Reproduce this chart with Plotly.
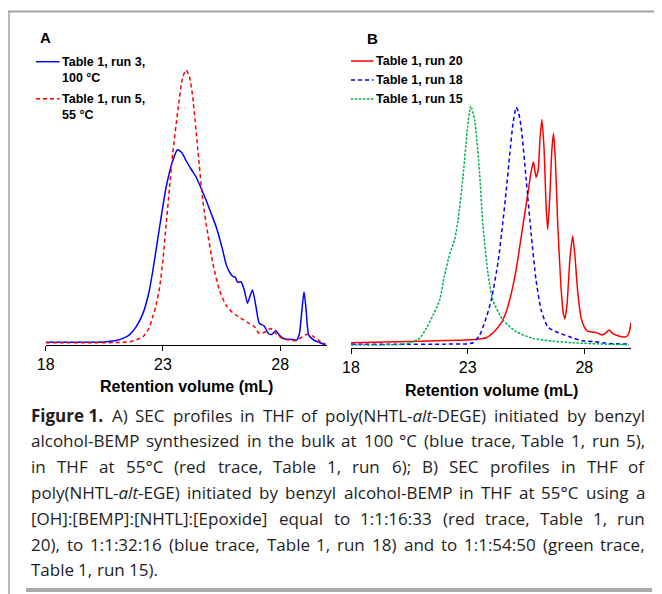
import re
import plotly.graph_objects as go

# The page shows the figure inside the default 8px body margin, so the figure is
# sized to the window minus that margin and every position below is given in
# window pixels and converted.
WIN_W, WIN_H = 662, 594
OFF = 8
W, H = WIN_W - OFF, WIN_H - OFF

# ---------------- data ----------------
# Panel A
vol_A_run3 = [18.0, 19.0, 20.0, 20.6, 21.0, 21.3, 21.58, 21.85, 22.15, 22.4, 22.57, 22.86, 23.14, 23.42,
              23.62, 23.8, 23.99, 24.2, 24.42, 24.63, 24.84, 25.05, 25.27, 25.55, 25.69, 25.83, 25.97,
              26.09, 26.19, 26.33, 26.47, 26.61, 26.71, 26.82, 26.97, 27.11, 27.32, 27.5, 27.63, 27.82,
              27.96, 28.17, 28.5, 28.7, 28.82, 28.93, 29.02, 29.11, 29.22, 29.44, 29.7, 29.94]
int_A_run3 = [1.0, 1.0, 1.0, 1.2, 1.6, 2.4, 3.8, 6.5, 11.5, 19.0, 27.0, 43.0, 57.5, 67.0,
              71.0, 70.0, 67.0, 64.0, 61.0, 57.0, 52.7, 48.0, 43.0, 34.5, 29.5, 26.7, 25.0,
              24.6, 22.8, 23.0, 20.0, 15.2, 17.6, 20.0, 14.0, 7.9, 6.9, 4.2, 3.8, 5.2,
              3.6, 2.3, 2.0, 1.8, 4.0, 12.7, 19.4, 12.7, 3.6, 1.8, 0.8, 0.0]

vol_A_run5 = [18.0, 19.0, 20.0, 21.0, 21.58, 21.9, 22.15, 22.4, 22.57, 22.72, 22.86, 23.0, 23.14, 23.28,
              23.42, 23.64, 23.85, 23.99, 24.13, 24.27, 24.49, 24.7, 24.91, 25.13, 25.41, 25.69, 25.97,
              26.33, 26.68, 26.9, 27.11, 27.39, 27.6, 27.82, 28.1, 28.67, 28.95, 29.16, 29.37, 29.66, 29.94]
int_A_run5 = [0.8, 0.8, 0.8, 0.9, 1.2, 2.0, 3.0, 6.0, 10.3, 15.0, 21.0, 31.0, 44.0, 57.0,
              69.7, 85.5, 97.6, 100.0, 97.6, 90.3, 71.0, 52.7, 40.6, 29.7, 20.0, 14.5, 11.8,
              9.7, 7.9, 6.7, 4.2, 4.8, 6.0, 4.2, 2.4, 1.6, 3.0, 3.9, 3.3, 1.6, 0.3]

# Panel B
vol_B_run20 = [18.0, 20.0, 22.0, 23.3, 23.8, 24.1, 24.44, 24.65, 24.82, 25.08, 25.36, 25.58, 25.72, 25.82,
               25.93, 26.02, 26.1, 26.18, 26.27, 26.36, 26.43, 26.52, 26.61, 26.68, 26.76, 26.86, 27.0,
               27.1, 27.17, 27.26, 27.38, 27.5, 27.6, 27.72, 27.86, 28.0, 28.14, 28.43, 28.6, 28.78,
               28.93, 29.07, 29.2, 29.35, 29.6, 29.8, 29.92, 30.0]
int_B_run20 = [1.8, 2.2, 2.6, 3.0, 3.6, 5.5, 9.0, 13.0, 18.0, 28.5, 44.0, 56.0, 64.0, 67.6,
               62.0, 64.5, 76.0, 83.0, 73.0, 52.0, 43.0, 55.0, 72.0, 78.0, 68.0, 45.0, 22.0,
               12.5, 10.5, 16.0, 32.0, 40.6, 33.0, 20.0, 11.0, 7.5, 6.0, 5.6, 5.2, 4.6,
               5.5, 6.4, 5.3, 4.6, 4.0, 4.0, 5.5, 9.0]

vol_B_run18 = [18.0, 20.0, 22.0, 23.0, 23.23, 23.51, 23.8, 24.01, 24.3, 24.5, 24.65, 24.8, 24.95, 25.08,
               25.18, 25.29, 25.51, 25.72, 25.93, 26.15, 26.43, 26.79, 27.36, 27.93, 28.43, 28.93, 29.92]
int_B_run18 = [1.3, 1.3, 1.3, 1.4, 1.8, 4.5, 11.0, 17.3, 31.0, 45.0, 57.0, 70.0, 82.0, 87.4,
               85.5, 80.4, 61.0, 41.6, 24.6, 13.7, 7.6, 5.8, 4.0, 2.5, 2.2, 1.6, 1.3]

vol_B_run15 = [18.0, 19.0, 20.0, 20.3, 20.6, 20.95, 21.23, 21.52, 21.8, 22.0, 22.23, 22.44, 22.59, 22.8,
               23.0, 23.13, 23.3, 23.51, 23.66, 23.87, 24.08, 24.51, 25.08, 25.79, 26.65, 27.5, 28.93, 29.92]
int_B_run15 = [1.0, 1.0, 1.1, 1.3, 2.0, 3.5, 7.1, 11.9, 17.3, 26.0, 34.0, 39.2, 46.4, 62.2,
               80.4, 87.9, 82.8, 63.4, 44.0, 27.0, 17.3, 10.1, 5.8, 3.4, 2.4, 1.8, 1.3, 1.1]

x_tick_vals = [18, 23, 28]
x_tick_text = ["18", "23", "28"]
x_title = "Retention volume (mL)"
legend_A = [["Table 1, run 3,", "100 °C"], ["Table 1, run 5,", "55 °C"]]
legend_B = ["Table 1, run 20", "Table 1, run 18", "Table 1, run 15"]

caption_lines = [
    "<b>Figure\u00a01.</b> A) SEC profiles in THF of poly(NHTL-<i>alt</i>-DEGE) initiated by benzyl",
    "alcohol-BEMP synthesized in the bulk at 100 °C (blue trace, Table 1, run 5),",
    "in THF at 55°C (red trace, Table 1, run 6); B) SEC profiles in THF of",
    "poly(NHTL-<i>alt</i>-EGE) initiated by benzyl alcohol-BEMP in THF at 55°C using a",
    "[OH]:[BEMP]:[NHTL]:[Epoxide] equal to 1:1:16:33 (red trace, Table 1, run",
    "20), to 1:1:32:16 (blue trace, Table 1, run 18) and to 1:1:54:50 (green trace,",
    "Table 1, run 15).",
]

# ---------------- helpers (window pixels -> paper) ----------------
def px(x):
    return (x - OFF) / W

def py(y):
    return 1 - (y - OFF) / H

BLUE = "#0000FF"
RED = "#FF0000"
GREEN = "#00B050"
AX_FONT = "Liberation Sans, Arial, sans-serif"
CAP_FONT = "Open Sans, Noto Sans, sans-serif"

fig = go.Figure()

def add_line(x, y, color, dash, xa, ya):
    fig.add_trace(go.Scatter(
        x=x, y=y, mode="lines", xaxis=xa, yaxis=ya, showlegend=False, hoverinfo="skip",
        line=dict(color=color, width=1.5, dash=dash, shape="spline", smoothing=0.6),
        cliponaxis=True))

add_line(vol_A_run3, int_A_run3, BLUE, "solid", "x", "y")
add_line(vol_A_run5, int_A_run5, RED, "4px,3px", "x", "y")
add_line(vol_B_run20, int_B_run20, RED, "solid", "x2", "y2")
add_line(vol_B_run18, int_B_run18, BLUE, "4px,3px", "x2", "y2")
add_line(vol_B_run15, int_B_run15, GREEN, "2.5px,1.5px", "x2", "y2")

A_x0, A_x1, A_axis = 45.7, 327.0, 345.0
B_x0, B_x1, B_axis = 351.0, 631.0, 347.7
PX_PER_UNIT = 2.75
Y_MAX = 110

def xaxis_cfg(x0, x1, anchor):
    return dict(domain=[px(x0), px(x1)], range=[18, 30], anchor=anchor,
                showline=True, linecolor="black", linewidth=1.3, mirror=False,
                ticks="outside", ticklen=5, tickwidth=1.3, tickcolor="black",
                tickvals=x_tick_vals, ticktext=x_tick_text,
                tickfont=dict(family=AX_FONT, size=16, color="black"),
                showgrid=False, zeroline=False, fixedrange=True)

def yaxis_cfg(axis_y, anchor):
    top = axis_y - Y_MAX * PX_PER_UNIT
    return dict(domain=[py(axis_y), py(top)], range=[0, Y_MAX], anchor=anchor,
                visible=False, showgrid=False, zeroline=False, fixedrange=True)

annotations = []
shapes = []

def text_ann(x, y, text, size, family=AX_FONT, xanchor="left", color="black"):
    annotations.append(dict(x=px(x), y=py(y), xref="paper", yref="paper", text=text,
                            showarrow=False, xanchor=xanchor, yanchor="middle",
                            borderpad=0, borderwidth=0,
                            font=dict(family=family, size=size, color=color)))

# panel letters
text_ann(45.5, 37.5, "<b>A</b>", 15, xanchor="center")
text_ann(372, 38.5, "<b>B</b>", 15, xanchor="center")

# axis titles
text_ann((A_x0 + A_x1) / 2, 386, "<b>%s</b>" % x_title, 16, xanchor="center")
text_ann((B_x0 + B_x1) / 2, 390, "<b>%s</b>" % x_title, 16, xanchor="center")

# legends (drawn by hand)
def leg_line(x0, x1, y, color, dash):
    shapes.append(dict(type="line", xref="paper", yref="paper", x0=px(x0), x1=px(x1),
                       y0=py(y), y1=py(y), line=dict(color=color, width=1.5, dash=dash)))

leg_line(36, 59.5, 61.7, BLUE, "solid")
text_ann(61.5, 61.7, "<b>%s</b>" % legend_A[0][0], 12.5)
text_ann(61.5, 77.9, "<b>%s</b>" % legend_A[0][1], 12.5)
leg_line(36, 59.5, 98.7, RED, "4px,3px")
text_ann(61.5, 98.7, "<b>%s</b>" % legend_A[1][0], 12.5)
text_ann(61.5, 114.6, "<b>%s</b>" % legend_A[1][1], 12.5)

for (yy, col, dsh, lab) in zip([61.0, 80.0, 99.0], [RED, BLUE, GREEN],
                               ["solid", "4px,3px", "2.5px,1.5px"], legend_B):
    leg_line(351, 373.5, yy, col, dsh)
    text_ann(375.5, yy, "<b>%s</b>" % lab, 12.5)

# frame
shapes.append(dict(type="line", xref="paper", yref="paper", x0=px(8), x1=px(662),
                   y0=py(11.5), y1=py(11.5), line=dict(color="#a3a3a3", width=2)))
shapes.append(dict(type="line", xref="paper", yref="paper", x0=px(9), x1=px(9),
                   y0=py(11), y1=py(594), line=dict(color="#a3a3a3", width=1.5)))
shapes.append(dict(type="rect", xref="paper", yref="paper", x0=px(26), x1=px(652),
                   y0=py(592), y1=py(588), line=dict(width=0), fillcolor="#ababab"))

# caption (justified by placing each word)
OS = {' ': 532, '\u00a0': 532, '(': 604, ')': 604, ',': 502, '-': 659, '.': 545, ':': 545, ';': 545,
      '[': 682, ']': 682, '°': 877,
      'A': 1296, 'B': 1327, 'C': 1292, 'D': 1493, 'E': 1139, 'F': 1057, 'G': 1491, 'H': 1511,
      'I': 571, 'L': 1098, 'M': 1849, 'N': 1556, 'O': 1599, 'P': 1237, 'R': 1278, 'S': 1124, 'T': 1104,
      'a': 1139, 'b': 1255, 'c': 975, 'd': 1255, 'e': 1149, 'f': 694, 'g': 1122, 'h': 1257, 'i': 518,
      'k': 1075, 'l': 518, 'm': 1905, 'n': 1257, 'o': 1237, 'p': 1255, 'q': 1255, 'r': 836, 's': 977,
      't': 723, 'u': 1257, 'v': 1026, 'w': 1593, 'x': 1073, 'y': 1028, 'z': 977}
for d in "0123456789":
    OS[d] = 1171
CAP_SIZE = 17

def word_width(tok):
    plain = re.sub(r"<[^>]+>", "", tok)
    w = sum(OS.get(c, 1100) for c in plain) / 2048.0 * CAP_SIZE
    if "<b>" in tok:
        w *= 1.07
    return w

CAP_L, CAP_R = 31.0, 645.0
cap_y = [415.0, 440.8, 466.6, 492.4, 518.2, 544.0, 569.8]
for i, line in enumerate(caption_lines):
    words = line.split(" ")
    widths = [word_width(w) for w in words]
    last = (i == len(caption_lines) - 1)
    if last or len(words) == 1:
        gap = OS[' '] / 2048.0 * CAP_SIZE
    else:
        gap = (CAP_R - CAP_L - sum(widths)) / (len(words) - 1)
    x = CAP_L
    for j, (w, wd) in enumerate(zip(words, widths)):
        if (not last) and j == len(words) - 1:
            text_ann(CAP_R, cap_y[i], w, CAP_SIZE, family=CAP_FONT, xanchor="right", color="#1e1e1e")
        else:
            text_ann(x, cap_y[i], w, CAP_SIZE, family=CAP_FONT, xanchor="left", color="#1e1e1e")
        x += wd + gap

fig.update_layout(
    width=W, height=H, margin=dict(l=0, r=0, t=0, b=0, autoexpand=False),
    paper_bgcolor="white", plot_bgcolor="rgba(0,0,0,0)", showlegend=False,
    xaxis=xaxis_cfg(A_x0, A_x1, "y"), yaxis=yaxis_cfg(A_axis, "x"),
    xaxis2=xaxis_cfg(B_x0, B_x1, "y2"), yaxis2=yaxis_cfg(B_axis, "x2"),
    annotations=annotations, shapes=shapes,
)

fig.write_html("out.html")
